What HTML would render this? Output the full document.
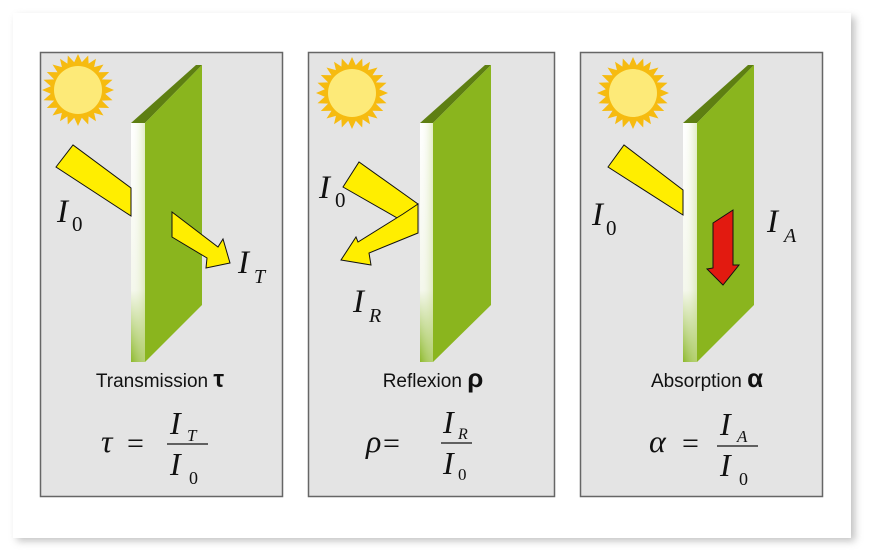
<!DOCTYPE html>
<html><head><meta charset="utf-8"><style>
html,body{margin:0;padding:0;background:#fff;}
svg{display:block}
.lbl{font-family:"Liberation Serif",serif;font-style:italic;fill:#111}
.cap{font-family:"Liberation Sans",sans-serif;fill:#111;font-size:19px}
</style></head><body>
<svg width="872" height="560" viewBox="0 0 872 560" xmlns="http://www.w3.org/2000/svg">
<defs>
<linearGradient id="edge" x1="0" y1="0" x2="0" y2="1">
<stop offset="0" stop-color="#ffffff"/><stop offset="0.7" stop-color="#f4f7ec"/><stop offset="1" stop-color="#8cb82a"/>
</linearGradient>
<linearGradient id="edgeh" x1="0" y1="0" x2="1" y2="0">
<stop offset="0" stop-color="#fff" stop-opacity="0"/><stop offset="1" stop-color="#cfe0a0" stop-opacity="0.6"/>
</linearGradient>
<filter id="sh" x="-5%" y="-5%" width="115%" height="115%"><feGaussianBlur stdDeviation="4"/></filter>
<g id="sun">
<polygon fill="#f6bb10" points="0,-36 3.8,-27.7 10.2,-34.5 10.6,-26.4 18,-31.2 16.1,-22.9 25.5,-25.5 20.5,-17.8 31.2,-18 23.9,-10.6 34.5,-10.2 27.2,-3.7 36,0 27.2,3.7 34.5,10.2 23.9,10.6 31.2,18 20.5,17.8 25.5,25.5 16.1,22.9 18,31.2 10.6,26.4 10.2,34.5 3.8,27.7 0,36 -3.8,27.7 -10.2,34.5 -10.6,26.4 -18,31.2 -16.1,22.9 -25.5,25.5 -20.5,17.8 -31.2,18 -23.9,10.6 -34.5,10.2 -27.2,3.7 -36,0 -27.2,-3.7 -34.5,-10.2 -23.9,-10.6 -31.2,-18 -20.5,-17.8 -25.5,-25.5 -16.1,-22.9 -18,-31.2 -10.6,-26.4 -10.2,-34.5 -3.8,-27.7"/>
<circle r="24" fill="#fdea78"/>
</g>
</defs>
<rect x="17" y="17" width="838" height="524" fill="#999" opacity="0.6" filter="url(#sh)"/>
<rect x="13" y="13" width="838" height="525" fill="#fff"/>

<rect x="40.5" y="52.5" width="242" height="444" fill="#e4e4e4" stroke="#666" stroke-width="1.5"/>
<rect x="308.5" y="52.5" width="246" height="444" fill="#e4e4e4" stroke="#666" stroke-width="1.5"/>
<rect x="580.5" y="52.5" width="242" height="444" fill="#e4e4e4" stroke="#666" stroke-width="1.5"/>

<!-- panel 1 -->
<use href="#sun" x="78" y="90"/>
<polygon points="131,123 196,65 202,65 145,123" fill="#5e7f12"/>
<polygon points="145,123 202,65 202,305 145,362" fill="#8ab51e"/>
<rect x="131" y="123" width="14" height="239" fill="url(#edge)"/>
<rect x="131" y="123" width="14" height="239" fill="url(#edgeh)"/>
<polygon points="56,167 73,145 131,188 131,216" fill="#ffee00" stroke="#111" stroke-width="1"/>
<polygon points="172,212 172,237 207,258 206,268 230,263 223,239 218,247" fill="#ffee00" stroke="#111" stroke-width="1"/>
<text class="lbl" x="57" y="222" font-size="33">I</text><text x="72" y="231" font-size="21" font-family="Liberation Serif,serif" fill="#111">0</text>
<text class="lbl" x="238" y="273" font-size="33">I</text><text class="lbl" x="254" y="283" font-size="20">T</text>
<text class="cap" x="160" y="387" text-anchor="middle">Transmission <tspan font-size="24" font-weight="bold">τ</tspan></text>
<text class="lbl" x="101" y="452" font-size="32">τ</text>
<text x="127" y="453" font-size="30" font-family="Liberation Serif,serif" fill="#111">=</text>
<line x1="167" y1="444" x2="208" y2="444" stroke="#111" stroke-width="1.2"/>
<text class="lbl" x="170" y="434" font-size="32">I</text><text class="lbl" x="187" y="441" font-size="17">T</text>
<text class="lbl" x="170" y="475" font-size="32">I</text><text x="189" y="484" font-size="18" font-family="Liberation Serif,serif" fill="#111">0</text>

<!-- panel 2 -->
<use href="#sun" x="352" y="93"/>
<polygon points="420,123 485,65 491,65 433,123" fill="#5e7f12"/>
<polygon points="433,123 491,65 491,305 433,362" fill="#8ab51e"/>
<rect x="420" y="123" width="13" height="239" fill="url(#edge)"/>
<rect x="420" y="123" width="13" height="239" fill="url(#edgeh)"/>
<polygon points="343,187 359,162 418,204 399,219" fill="#ffee00" stroke="#111" stroke-width="1"/>
<polygon points="418,204 418,233 369,253 371,265 341,260 356,237 358,242 403,214" fill="#ffee00" stroke="#111" stroke-width="1"/>
<text class="lbl" x="319" y="198" font-size="33">I</text><text x="335" y="207" font-size="21" font-family="Liberation Serif,serif" fill="#111">0</text>
<text class="lbl" x="353" y="312" font-size="33">I</text><text class="lbl" x="369" y="322" font-size="20">R</text>
<text class="cap" x="433" y="387" text-anchor="middle">Reflexion <tspan font-size="26" font-weight="bold">ρ</tspan></text>
<text class="lbl" x="366" y="452" font-size="32">ρ</text>
<text x="383" y="453" font-size="30" font-family="Liberation Serif,serif" fill="#111">=</text>
<line x1="441" y1="443" x2="472" y2="443" stroke="#111" stroke-width="1.2"/>
<text class="lbl" x="443" y="433" font-size="32">I</text><text class="lbl" x="458" y="439" font-size="16">R</text>
<text class="lbl" x="443" y="474" font-size="32">I</text><text x="458" y="480" font-size="17" font-family="Liberation Serif,serif" fill="#111">0</text>

<!-- panel 3 -->
<use href="#sun" x="633" y="93"/>
<polygon points="683,123 748,65 754,65 697,123" fill="#5e7f12"/>
<polygon points="697,123 754,65 754,305 697,362" fill="#8ab51e"/>
<rect x="683" y="123" width="14" height="239" fill="url(#edge)"/>
<rect x="683" y="123" width="14" height="239" fill="url(#edgeh)"/>
<polygon points="608,167 624,145 683,190 683,215" fill="#ffee00" stroke="#111" stroke-width="1"/>
<polygon points="713,223 733,210 733,265 739,265 723,285 707,269 713,268" fill="#e21a10" stroke="#111" stroke-width="1"/>
<text class="lbl" x="592" y="225" font-size="33">I</text><text x="606" y="235" font-size="21" font-family="Liberation Serif,serif" fill="#111">0</text>
<text class="lbl" x="767" y="232" font-size="33">I</text><text class="lbl" x="784" y="242" font-size="20">A</text>
<text class="cap" x="707" y="387" text-anchor="middle">Absorption <tspan font-size="26" font-weight="bold">α</tspan></text>
<text class="lbl" x="649" y="452" font-size="32">α</text>
<text x="682" y="453" font-size="30" font-family="Liberation Serif,serif" fill="#111">=</text>
<line x1="717" y1="446" x2="758" y2="446" stroke="#111" stroke-width="1.2"/>
<text class="lbl" x="720" y="435" font-size="32">I</text><text class="lbl" x="737" y="442" font-size="17">A</text>
<text class="lbl" x="720" y="476" font-size="32">I</text><text x="739" y="485" font-size="18" font-family="Liberation Serif,serif" fill="#111">0</text>
</svg>
</body></html>
